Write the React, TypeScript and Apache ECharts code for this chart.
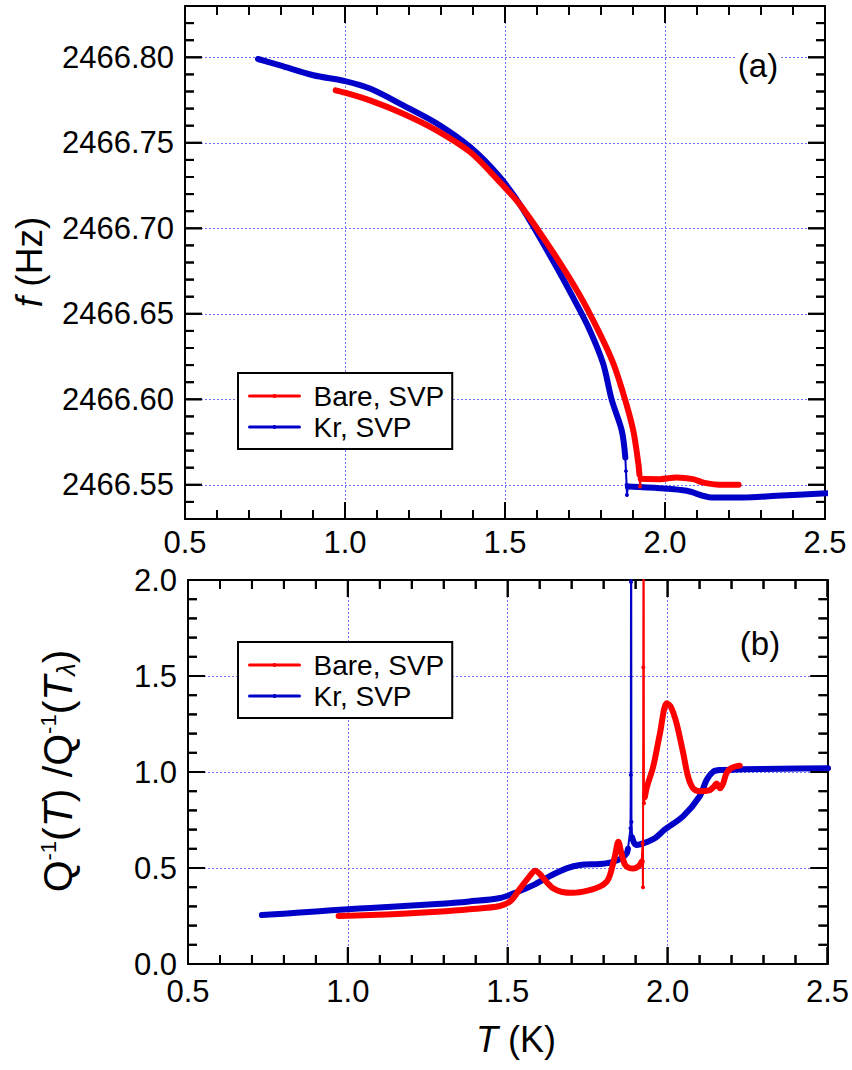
import React, { useEffect, useRef } from 'react';
import * as echarts from 'echarts';

const FONT = "'Liberation Sans', Arial, Helvetica, sans-serif";
const RED = '#ff0000';
const BLUE = '#0000c8';
const GRID_COLOR = '#6f6fff';

const SERIES_NAMES = ['Bare, SVP', 'Kr, SVP'];

// tick values (major ones carry labels)
const tMajor = [0.5, 1.0, 1.5, 2.0, 2.5];
const tMinor = [0.6, 0.7, 0.8, 0.9, 1.1, 1.2, 1.3, 1.4, 1.6, 1.7, 1.8, 1.9, 2.1, 2.2, 2.3, 2.4];
const fMajor = [2466.55, 2466.6, 2466.65, 2466.7, 2466.75, 2466.8];
const fMinor = [
  2466.54, 2466.56, 2466.57, 2466.58, 2466.59, 2466.61, 2466.62, 2466.63, 2466.64,
  2466.66, 2466.67, 2466.68, 2466.69, 2466.71, 2466.72, 2466.73, 2466.74,
  2466.76, 2466.77, 2466.78, 2466.79, 2466.81, 2466.82,
];
const qMajor = [0, 0.5, 1.0, 1.5, 2.0];
const qMinor = [0.1, 0.2, 0.3, 0.4, 0.6, 0.7, 0.8, 0.9, 1.1, 1.2, 1.3, 1.4, 1.6, 1.7, 1.8, 1.9];

// ---- panel (a): resonance frequency f (Hz) vs T (K)
const bareF: [number, number][] = [
  [0.971, 2466.7807], [1.0, 2466.7793], [1.078, 2466.7748], [1.182, 2466.767],
  [1.286, 2466.7573], [1.391, 2466.7446], [1.479, 2466.728], [1.55, 2466.713],
  [1.65, 2466.686], [1.73, 2466.662], [1.792, 2466.64], [1.839, 2466.6207],
  [1.875, 2466.6], [1.901, 2466.5816], [1.917, 2466.562], [1.92, 2466.556],
];
const bareFDrop: [number, number][] = [
  [1.92, 2466.556], [1.922, 2466.549], [1.924, 2466.5535],
];
const bareFAbove: [number, number][] = [
  [1.924, 2466.5535], [1.984, 2466.5533], [2.036, 2466.5543], [2.088, 2466.5533],
  [2.12, 2466.5513], [2.182, 2466.55], [2.23, 2466.55],
];
const krF: [number, number][] = [
  [0.728, 2466.799], [0.797, 2466.7953], [0.901, 2466.7895], [1.0, 2466.7861],
  [1.078, 2466.7817], [1.182, 2466.7719], [1.286, 2466.7614], [1.391, 2466.7475],
  [1.479, 2466.731], [1.55, 2466.713], [1.65, 2466.681], [1.72, 2466.657],
  [1.766, 2466.64], [1.807, 2466.6207], [1.833, 2466.6], [1.865, 2466.5816],
  [1.876, 2466.566],
];
const krFDrop: [number, number][] = [
  [1.876, 2466.566], [1.878, 2466.558], [1.88, 2466.55], [1.881, 2466.544], [1.884, 2466.549],
];
const krFAbove: [number, number][] = [
  [1.884, 2466.549], [1.984, 2466.548], [2.068, 2466.5465], [2.146, 2466.5426],
  [2.245, 2466.5426], [2.349, 2466.5436], [2.505, 2466.545],
];

// ---- panel (b): normalised dissipation Q^-1(T)/Q^-1(T_lambda) vs T (K)
const bareQ: [number, number][] = [
  [0.971, 0.25], [1.07, 0.255], [1.17, 0.262], [1.278, 0.272], [1.38, 0.285],
  [1.476, 0.302], [1.51, 0.33], [1.539, 0.394], [1.565, 0.45], [1.586, 0.486],
  [1.6, 0.47], [1.62, 0.43], [1.642, 0.394], [1.67, 0.375], [1.705, 0.371],
  [1.75, 0.382], [1.788, 0.403], [1.81, 0.43], [1.82, 0.464], [1.835, 0.56],
  [1.846, 0.637], [1.855, 0.58], [1.867, 0.516], [1.88, 0.5], [1.893, 0.498],
  [1.91, 0.51], [1.919, 0.533],
];
const bareQSpike: [number, number][] = [
  [1.919, 0.533], [1.922, 0.628], [1.923, 0.4], [1.924, 1.545], [1.925, 2.6],
  [1.926, 0.837], [1.929, 0.87],
];
const bareQAbove: [number, number][] = [
  [1.929, 0.87], [1.935, 0.92], [1.955, 1.028], [1.976, 1.2], [1.997, 1.358],
  [2.01, 1.34], [2.028, 1.254], [2.049, 1.097], [2.064, 0.976], [2.08, 0.915],
  [2.101, 0.9], [2.132, 0.906], [2.145, 0.924], [2.153, 0.94], [2.164, 0.915],
  [2.174, 0.941], [2.184, 0.993], [2.2, 1.021], [2.226, 1.033],
];
const krQ: [number, number][] = [
  [0.731, 0.255], [0.8, 0.262], [0.9, 0.274], [1.0, 0.285], [1.07, 0.292],
  [1.15, 0.3], [1.278, 0.3125], [1.38, 0.326], [1.476, 0.344], [1.53, 0.375],
  [1.58, 0.411], [1.632, 0.458], [1.684, 0.498], [1.726, 0.516], [1.788, 0.521],
  [1.82, 0.528], [1.856, 0.55], [1.872, 0.576], [1.876, 0.6],
];
const krQSpike: [number, number][] = [
  [1.876, 0.6], [1.884, 0.707], [1.885, 0.984], [1.8855, 1.99], [1.886, 2.6],
  [1.887, 0.74], [1.889, 0.66],
];
const krQAbove: [number, number][] = [
  [1.889, 0.66], [1.895, 0.632], [1.903, 0.62], [1.924, 0.628], [1.96, 0.655],
  [1.99, 0.698], [2.049, 0.77], [2.101, 0.875], [2.122, 0.958], [2.143, 1.002],
  [2.165, 1.01], [2.236, 1.014], [2.35, 1.017], [2.502, 1.019],
];

const GRIDS = [
  { left: 185, top: 6, width: 640, height: 513 },
  { left: 188, top: 580, width: 640, height: 384 },
];
const PANELS = [
  { xr: [0.5, 2.5], yr: [2466.53, 2466.83], xMaj: tMajor, xMin: tMinor, yMaj: fMajor, yMin: fMinor },
  { xr: [0.5, 2.5], yr: [0, 2], xMaj: tMajor, xMin: tMinor, yMaj: qMajor, yMin: qMinor },
];

const lineStyleBlack = { color: '#000', width: 2 };
const gridSplit = {
  show: true, showMinLine: false, showMaxLine: false,
  lineStyle: { color: GRID_COLOR, width: 1, type: [2, 2] },
};
const labelStyle = { color: '#000', fontSize: 31, fontFamily: FONT };

const tRange = { min: 0.5, max: 2.5, interval: 0.5 };
const fRange = { min: 2466.53, max: 2466.83, splitNumber: 6 };
const qRange = { min: 0, max: 2, interval: 0.5 };
const fmt1 = (v: number) => v.toFixed(1);
const fmt2 = (v: number) => v.toFixed(2);

function labelAxis(range: any, gridIndex: number, position: string, margin: number, fmt: (v: number) => string, custom?: number[]) {
  return {
    type: 'value', gridIndex, position, ...range,
    axisLine: { show: true, onZero: false, lineStyle: lineStyleBlack },
    axisTick: { show: false },
    minorTick: { show: false },
    splitLine: gridSplit,
    axisLabel: { ...labelStyle, margin, formatter: fmt, ...(custom ? { customValues: custom } : {}) },
  };
}
function frameAxis(range: any, gridIndex: number, position: string) {
  return {
    type: 'value', gridIndex, position, ...range,
    axisLine: { show: true, onZero: false, lineStyle: lineStyleBlack },
    axisTick: { show: false }, minorTick: { show: false },
    splitLine: { show: false }, axisLabel: { show: false },
  };
}

// tick items: [x, y, side(0 bottom,1 top,2 left,3 right), major(1)/minor(0)]
function tickItems(p: typeof PANELS[number]) {
  const data: number[][] = [];
  const addX = (vals: number[], major: number) => vals.forEach((v) => {
    data.push([v, p.yr[0], 0, major]);
    data.push([v, p.yr[1], 1, major]);
  });
  const addY = (vals: number[], major: number) => vals.forEach((v) => {
    data.push([p.xr[0], v, 2, major]);
    data.push([p.xr[1], v, 3, major]);
  });
  addX(p.xMaj, 1); addX(p.xMin, 0); addY(p.yMaj, 1); addY(p.yMin, 0);
  return data;
}
// a tick drawn as a thin filled bar pointing into the plot
function tickRect(px: number[], side: number, major: number) {
  const len = major ? 17 : 9;
  const w = 2;
  if (side === 0) return { x: px[0] - w / 2, y: px[1] - len, width: w, height: len };
  if (side === 1) return { x: px[0] - w / 2, y: px[1], width: w, height: len };
  if (side === 2) return { x: px[0], y: px[1] - w / 2, width: len, height: w };
  return { x: px[0] - len, y: px[1] - w / 2, width: len, height: w };
}

function tickSeries(idx: number) {
  return {
    type: 'custom', xAxisIndex: idx * 2, yAxisIndex: idx * 2, silent: true, z: 6,
    dimensions: ['x', 'y', 'side', 'major'],
    encode: { x: 0, y: 1 },
    data: tickItems(PANELS[idx]),
    renderItem: (_p: any, api: any) => {
      const a = api.coord([api.value(0), api.value(1)]);
      return { type: 'rect', shape: tickRect(a, api.value(2), api.value(3)), style: { fill: '#000' } };
    },
  };
}

function thick(name: string, color: string, data: [number, number][], idx: number) {
  return {
    type: 'line', name, data, xAxisIndex: idx * 2, yAxisIndex: idx * 2,
    symbol: 'none', showSymbol: false, color, smooth: 0.3,
    lineStyle: { color, width: 6, cap: 'round', join: 'round' },
    itemStyle: { color }, silent: true, z: 3,
  };
}
function thin(name: string, color: string, data: [number, number][], idx: number) {
  return {
    type: 'line', name, data, xAxisIndex: idx * 2, yAxisIndex: idx * 2,
    symbol: 'circle', symbolSize: 4, showSymbol: true, color,
    lineStyle: { color, width: 2 },
    itemStyle: { color }, silent: true, z: 3,
  };
}

const legendBase = {
  orient: 'vertical', data: SERIES_NAMES, selectedMode: false,
  itemWidth: 50, itemHeight: 5, itemGap: 3, padding: [9, 8, 8, 10],
  borderColor: '#000', borderWidth: 2, borderRadius: 0, backgroundColor: '#fff',
  textStyle: { fontSize: 28, color: '#000', fontFamily: FONT, padding: [0, 0, 0, 9], lineHeight: 28 },
  lineStyle: { width: 3 }, z: 10,
};

const textGraphics = [
  {
    type: 'text', x: 758, y: 65, z: 100,
    style: {
      text: '(a)', fontSize: 33, fontFamily: FONT, fill: '#000',
      align: 'center', verticalAlign: 'middle', textAlign: 'center', textVerticalAlign: 'middle',
      backgroundColor: '#fff', padding: [0, 3],
    },
  },
  {
    type: 'text', x: 760, y: 643, z: 100,
    style: {
      text: '(b)', fontSize: 33, fontFamily: FONT, fill: '#000',
      align: 'center', verticalAlign: 'middle', textAlign: 'center', textVerticalAlign: 'middle',
      backgroundColor: '#fff', padding: [0, 3],
    },
  },
  {
    type: 'text', x: 29, y: 262, rotation: Math.PI / 2, z: 100,
    style: {
      text: '{i|f} (Hz)', fontSize: 37, fontFamily: FONT, fill: '#000',
      align: 'center', verticalAlign: 'middle', textAlign: 'center', textVerticalAlign: 'middle',
      rich: { i: { fontStyle: 'italic', fontSize: 37, fontFamily: FONT, fill: '#000' } },
    },
  },
  {
    type: 'text', x: 58, y: 771, rotation: Math.PI / 2, z: 100,
    style: {
      text: '{n|Q}{s|-1}{n|(}{i|T}{n|) /Q}{s|-1}{n|(}{i|T}{b|λ}{n|)}',
      fontSize: 41, fontFamily: FONT, fill: '#000',
      align: 'center', verticalAlign: 'middle', textAlign: 'center', textVerticalAlign: 'middle',
      rich: {
        n: { fontSize: 41, fontFamily: FONT, fill: '#000' },
        i: { fontSize: 41, fontFamily: FONT, fontStyle: 'italic', fill: '#000' },
        s: { fontSize: 22, fontFamily: FONT, fill: '#000', verticalAlign: 'top' },
        b: { fontSize: 25, fontFamily: FONT, fontStyle: 'italic', fill: '#000', verticalAlign: 'bottom' },
      },
    },
  },
  {
    type: 'text', x: 516, y: 1039, z: 100,
    style: {
      text: '{i|T} (K)', fontSize: 36, fontFamily: FONT, fill: '#000',
      align: 'center', verticalAlign: 'middle', textAlign: 'center', textVerticalAlign: 'middle',
      rich: { i: { fontStyle: 'italic', fontSize: 36, fontFamily: FONT, fill: '#000' } },
    },
  },
];

function buildOption() {
  return {
    animation: false,
    backgroundColor: '#fff',
    textStyle: { fontFamily: FONT },
    grid: GRIDS,
    xAxis: [
      labelAxis(tRange, 0, 'bottom', 8, fmt1),
      frameAxis(tRange, 0, 'top'),
      labelAxis(tRange, 1, 'bottom', 12, fmt1),
      frameAxis(tRange, 1, 'top'),
    ],
    yAxis: [
      labelAxis(fRange, 0, 'left', 11, fmt2, fMajor),
      frameAxis(fRange, 0, 'right'),
      labelAxis(qRange, 1, 'left', 11, fmt1),
      frameAxis(qRange, 1, 'right'),
    ],
    legend: [
      { ...legendBase, left: 238, top: 373 },
      { ...legendBase, left: 238, top: 642 },
    ],
    series: [
      thick('Kr, SVP', BLUE, krF, 0),
      thin('Kr, SVP', BLUE, krFDrop, 0),
      thick('Kr, SVP', BLUE, krFAbove, 0),
      thick('Bare, SVP', RED, bareF, 0),
      thin('Bare, SVP', RED, bareFDrop, 0),
      thick('Bare, SVP', RED, bareFAbove, 0),
      thick('Kr, SVP', BLUE, krQ, 1),
      thin('Kr, SVP', BLUE, krQSpike, 1),
      thick('Kr, SVP', BLUE, krQAbove, 1),
      thick('Bare, SVP', RED, bareQ, 1),
      thin('Bare, SVP', RED, bareQSpike, 1),
      thick('Bare, SVP', RED, bareQAbove, 1),
      tickSeries(0),
      tickSeries(1),
    ],
    graphic: textGraphics,
  };
}

export default function App() {
  const ref = useRef<HTMLDivElement>(null);
  useEffect(() => {
    if (!ref.current) return;
    const chart = echarts.init(ref.current, undefined, { renderer: 'svg' });
    chart.setOption(buildOption() as any);
    // Tick marks positioned through the axes' own scales (convertToPixel)
    const tickGraphics: any[] = [];
    PANELS.forEach((p, g) => {
      tickItems(p).forEach((it) => {
        const px = chart.convertToPixel({ gridIndex: g } as any, [it[0], it[1]]) as any;
        if (px && isFinite(px[0]) && isFinite(px[1])) {
          tickGraphics.push({
            type: 'rect', z: 200, silent: true,
            shape: tickRect(px, it[2], it[3]),
            style: { fill: '#000' },
          });
        }
      });
    });
    chart.setOption({ graphic: [...textGraphics, ...tickGraphics] } as any);
    return () => chart.dispose();
  }, []);
  return (
    <div
      ref={ref}
      style={{ position: 'absolute', left: 0, top: 0, width: 852, height: 1070, background: '#fff' }}
    />
  );
}
